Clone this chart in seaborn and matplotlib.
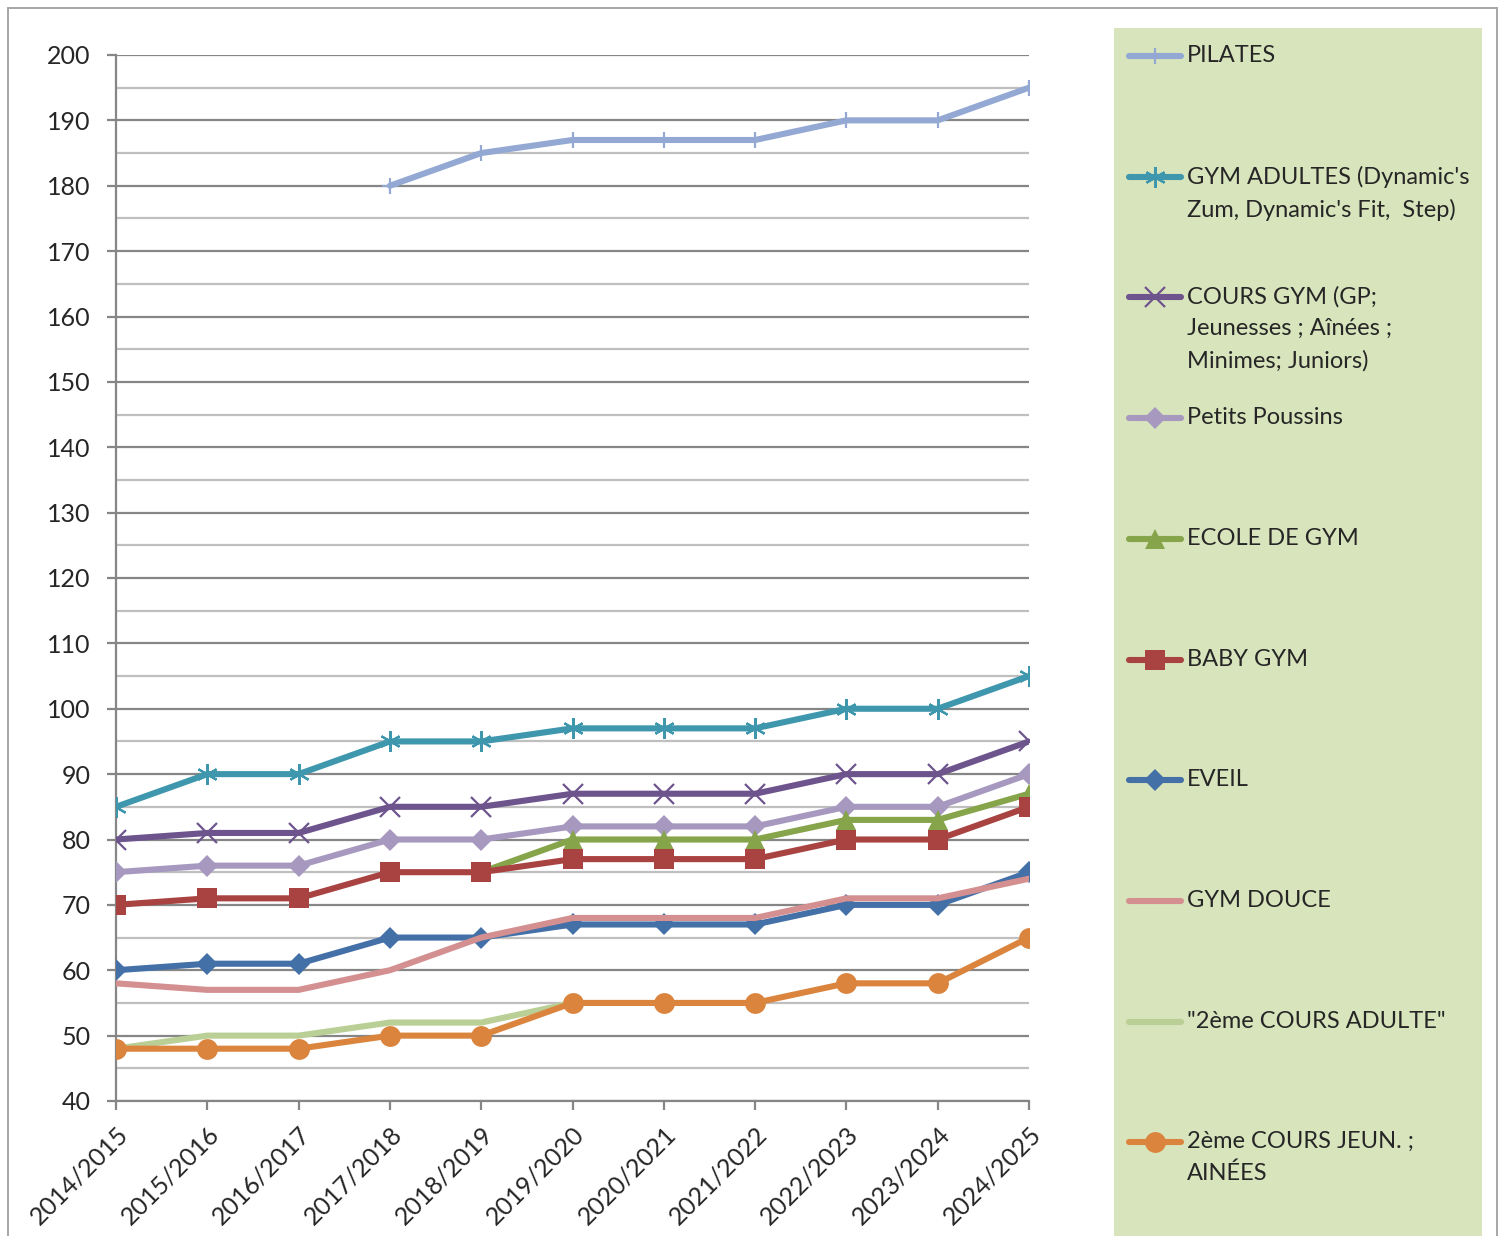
"""
Effectifs par cours — saisons 2014/2015 à 2024/2025
"""

import numpy as np
import pandas as pd
import matplotlib
matplotlib.use('Agg')
import matplotlib.pyplot as plt
from matplotlib.patches import Rectangle
from matplotlib.ticker import MultipleLocator
import seaborn as sns

# ======================== données ========================
SEASONS = ['2014/2015', '2015/2016', '2016/2017', '2017/2018', '2018/2019',
           '2019/2020', '2020/2021', '2021/2022', '2022/2023', '2023/2024',
           '2024/2025']

pilates        = [np.nan, np.nan, np.nan, 180, 185, 187, 187, 187, 190, 190, 195]
gym_adultes    = [85, 90, 90, 95, 95, 97, 97, 97, 100, 100, 105]
cours_gym      = [80, 81, 81, 85, 85, 87, 87, 87, 90, 90, 95]
petits_pouss   = [75, 76, 76, 80, 80, 82, 82, 82, 85, 85, 90]
ecole_gym      = [np.nan, np.nan, np.nan, np.nan, 75, 80, 80, 80, 83, 83, 87]
baby_gym       = [70, 71, 71, 75, 75, 77, 77, 77, 80, 80, 85]
eveil          = [60, 61, 61, 65, 65, 67, 67, 67, 70, 70, 75]
gym_douce      = [58, 57, 57, 60, 65, 68, 68, 68, 71, 71, 74]
cours_adulte2  = [48, 50, 50, 52, 52, 55, np.nan, np.nan, np.nan, np.nan, np.nan]
cours_jeun2    = [48, 48, 48, 50, 50, 55, 55, 55, 58, 58, 65]

LABELS = ['PILATES',
          "GYM ADULTES (Dynamic's\nZum, Dynamic's Fit,  Step)",
          'COURS GYM (GP;\nJeunesses ; Aînées ;\nMinimes; Juniors)',
          'Petits Poussins',
          'ECOLE DE GYM',
          'BABY GYM',
          'EVEIL',
          'GYM DOUCE',
          '"2ème COURS ADULTE"',
          '2ème COURS JEUN. ;\nAINÉES']
VALUES = [pilates, gym_adultes, cours_gym, petits_pouss, ecole_gym,
          baby_gym, eveil, gym_douce, cours_adulte2, cours_jeun2]

# ======================== styles ========================
COLORS = ['#93A9D4', '#3F97AE', '#6E548D', '#A698BE', '#86A44A',
          '#A84341', '#4470A8', '#D49091', '#B9CF96', '#DB843D']
MARKERS = ['+', (6, 2, 0), 'x', 'D', '^', 's', 'D', None, None, 'o']
MSIZES = [11, 15, 14, 11, 14, 15, 11, 0, 0, 15]
LINE_MARKERS = ('+', 'x', (6, 2, 0))

FONT = ['Lato', 'DejaVu Sans']
sns.set_style('white')
plt.rcParams['font.family'] = FONT

fig = plt.figure(figsize=(15.04, 12.36), dpi=100)
ax = fig.add_axes([116 / 1504, 135 / 1236, (1029 - 116) / 1504, (1101 - 55) / 1236])

x_pos = np.arange(len(SEASONS))
for lab, vals, c, m, ms in zip(LABELS, VALUES, COLORS, MARKERS, MSIZES):
    d = pd.DataFrame({'x': x_pos, 'y': vals}).dropna()
    sns.lineplot(data=d, x='x', y='y', ax=ax, color=c, lw=4.4,
                 marker=m, markersize=ms, markeredgecolor=c,
                 markeredgewidth=1.6 if m in LINE_MARKERS else 0,
                 errorbar=None, zorder=3)

# ---- axes ----
ax.set_xlim(0, len(SEASONS) - 1)
ax.set_ylim(40, 200)
ax.yaxis.set_major_locator(MultipleLocator(10))
ax.yaxis.set_minor_locator(MultipleLocator(5))
ax.grid(axis='y', which='major', color='#868686', lw=1.6, zorder=0)
ax.grid(axis='y', which='minor', color='#BFBFBF', lw=1.6, zorder=0)
ax.set_axisbelow(True)
ax.set_xticks(x_pos)
ax.set_xticklabels(SEASONS, rotation=45, ha='right', rotation_mode='anchor')
ax.set_xlabel('')
ax.set_ylabel('')
for s in ['top', 'right']:
    ax.spines[s].set_visible(False)
for s in ['left', 'bottom']:
    ax.spines[s].set_color('#868686')
    ax.spines[s].set_linewidth(1.6)
ax.tick_params(axis='y', which='major', length=6.5, width=1.6, color='#868686',
               pad=12, labelsize=18, left=True)
ax.tick_params(axis='y', which='minor', length=0)
ax.tick_params(axis='x', length=6.5, width=1.6, color='#868686', pad=9,
               labelsize=18, bottom=True)

# ---- légende ----
lax = fig.add_axes([1114 / 1504, 0, (1482 - 1114) / 1504, (1236 - 28) / 1236])
lax.set_xlim(1114, 1482)
lax.set_ylim(1236, 28)
lax.set_facecolor('#D8E4BC')
for s in lax.spines.values():
    s.set_visible(False)
lax.set_xticks([])
lax.set_yticks([])
for i, (lab, c, m, ms) in enumerate(zip(LABELS, COLORS, MARKERS, MSIZES)):
    y = 56 + i * 120.7
    lax.plot([1129, 1181], [y, y], color=c, lw=4.4, solid_capstyle='round')
    if m is not None:
        lax.plot([1155], [y], color=c, marker=m, markersize=ms, markeredgecolor=c,
                 markeredgewidth=1.6 if m in LINE_MARKERS else 0)
    lax.text(1187, y - 11, lab, fontsize=17, va='top', ha='left',
             linespacing=1.6)

# ---- cadre ----
fig.patches.append(Rectangle((8 / 1504, -0.05), (1497 - 8) / 1504, (1228 / 1236) + 0.05,
                             transform=fig.transFigure, fill=False,
                             edgecolor='#A6A6A6', lw=1.4))

fig.savefig('out.png', dpi=100)
